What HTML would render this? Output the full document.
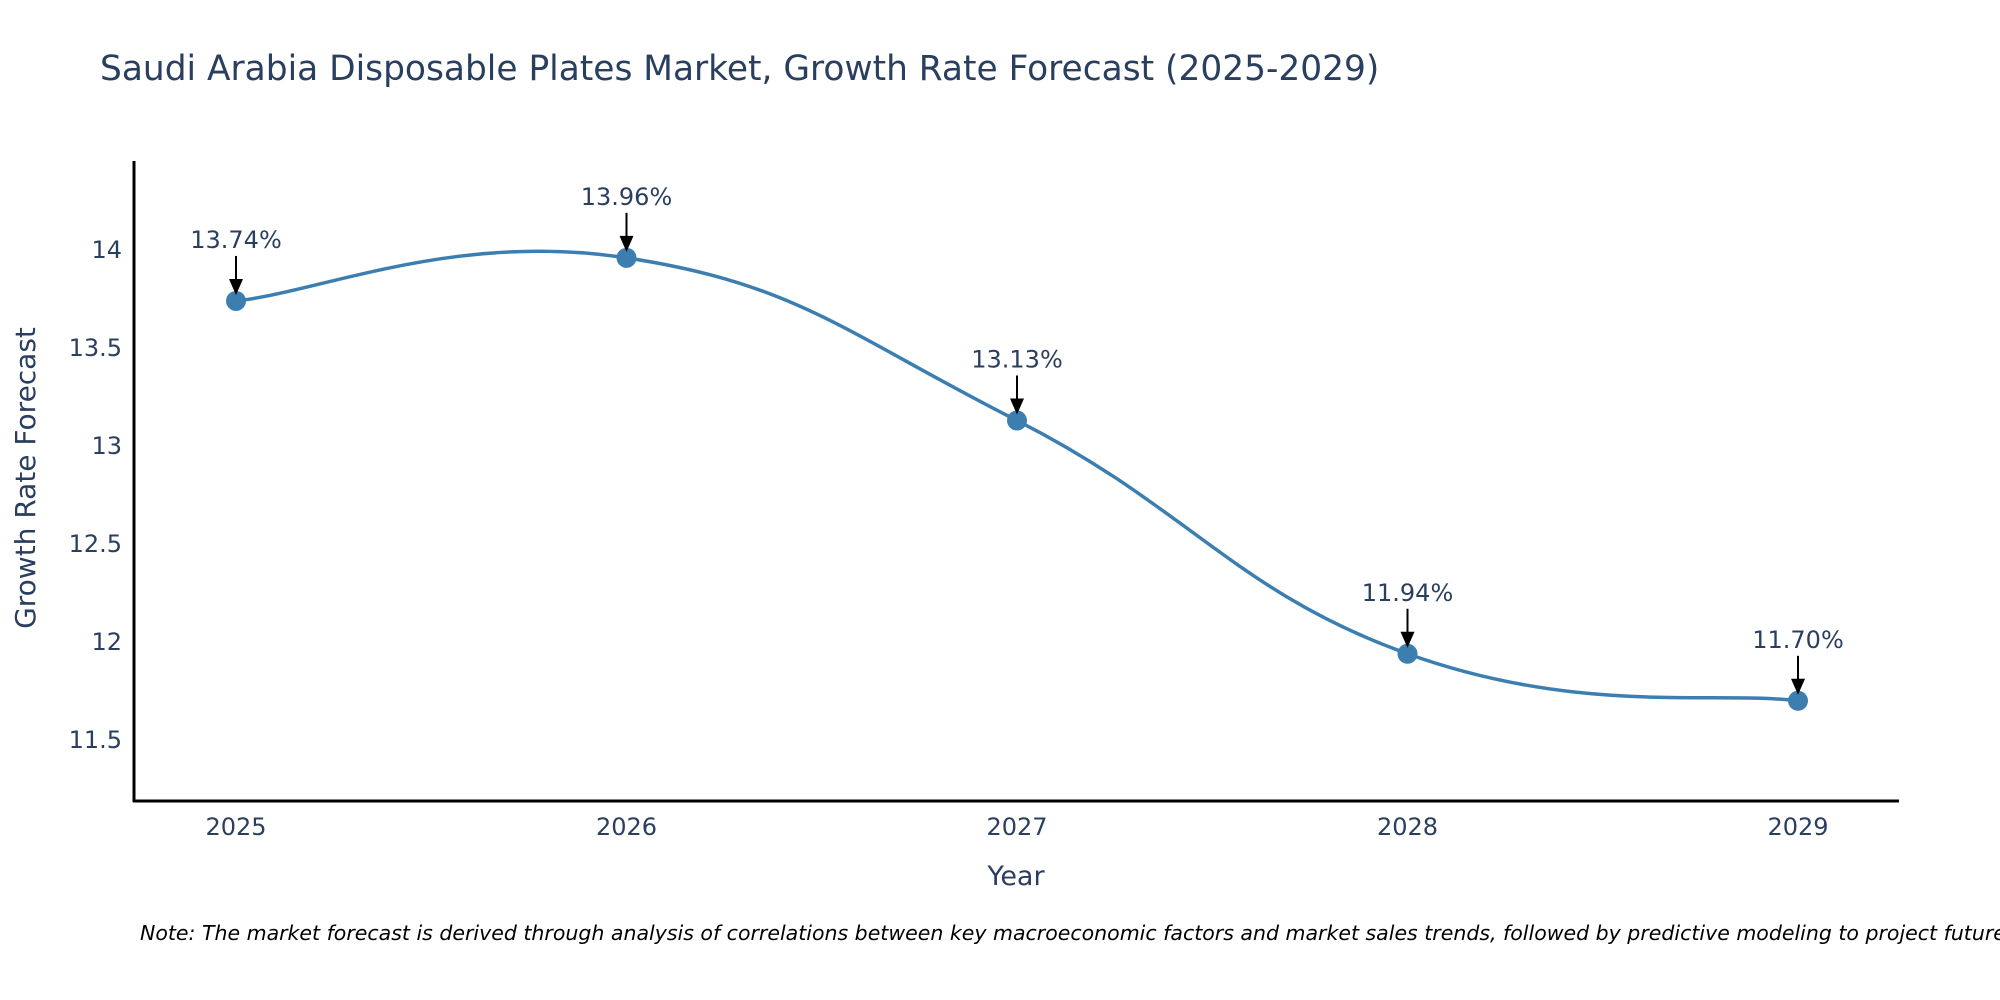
<!DOCTYPE html>
<html><head><meta charset="utf-8"><style>
body{margin:0;background:#fff}
svg{display:block;font-family:"DejaVu Sans","Liberation Sans",sans-serif}
</style></head><body>
<svg id="chart" width="2000" height="1000" viewBox="0 0 2000 1000" xmlns="http://www.w3.org/2000/svg">
<text x="100" y="80" font-size="34.4" fill="#2a3f5f">Saudi Arabia Disposable Plates Market, Growth Rate Forecast (2025-2029)</text>
<g id="yticks"></g><g id="xticks"></g>
<line x1="134" y1="161" x2="134" y2="802" stroke="#000" stroke-width="3"/>
<line x1="133" y1="801" x2="1899" y2="801" stroke="#000" stroke-width="3"/>
<path id="line" fill="none" stroke="#3d7eb0" stroke-width="3.5"/>
<g id="points"></g><g id="annots"></g>
<text transform="translate(35,478) rotate(-90)" text-anchor="middle" font-size="28" fill="#2a3f5f">Growth Rate Forecast</text>
<text x="1016" y="885" text-anchor="middle" font-size="27" fill="#2a3f5f">Year</text>
<text x="140" y="940" font-size="20.5" font-style="italic" fill="#000">Note: The market forecast is derived through analysis of correlations between key macroeconomic factors and market sales trends, followed by predictive modeling to project future sales.</text>
</svg>
<script>
const years = ['2025','2026','2027','2028','2029'];
const values = [13.74, 13.96, 13.13, 11.94, 11.70];
const labels = ['13.74%','13.96%','13.13%','11.94%','11.70%'];
const yTicks = [11.5, 12, 12.5, 13, 13.5, 14];
const NS='http://www.w3.org/2000/svg';
const x = i => 236 + i*390.5;
const y = v => 250 + (14 - v)*196;
function mk(tag, attrs, parent, txt){const e=document.createElementNS(NS,tag);for(const k in attrs)e.setAttribute(k,attrs[k]);if(txt!==undefined)e.textContent=txt;parent.appendChild(e);return e;}
const yt=document.getElementById('yticks');
yTicks.forEach(t=>{const e=mk('text',{x:122,y:y(t)+8,'text-anchor':'end','font-size':24,fill:'#2a3f5f'},yt,String(t));

});
const xt=document.getElementById('xticks');
years.forEach((t,i)=>{const e=mk('text',{x:x(i),y:835,'text-anchor':'middle','font-size':24,fill:'#2a3f5f'},xt,t);

});
const P=values.map((v,i)=>[x(i),y(v)]);
let d=`M${P[0][0]},${P[0][1]}`;const s=0.22;
for(let i=0;i<P.length-1;i++){const p0=P[Math.max(i-1,0)],p1=P[i],p2=P[i+1],p3=P[Math.min(i+2,P.length-1)];
d+=` C${p1[0]+(p2[0]-p0[0])*s},${p1[1]+(p2[1]-p0[1])*s} ${p2[0]-(p3[0]-p1[0])*s},${p2[1]-(p3[1]-p1[1])*s} ${p2[0]},${p2[1]}`;}
document.getElementById('line').setAttribute('d',d);
const pts=document.getElementById('points'),an=document.getElementById('annots');
P.forEach((p,i)=>{const c=mk('circle',{cx:p[0],cy:p[1],r:10,fill:'#3d7eb0'},pts);


const l=mk('line',{x1:p[0],y1:p[1]-45,x2:p[0],y2:p[1]-20,stroke:'#000','stroke-width':2},an);


const h=mk('polygon',{points:`${p[0]-7},${p[1]-22} ${p[0]+7},${p[1]-22} ${p[0]},${p[1]-6}`,fill:'#000'},an);


const t=mk('text',{x:p[0],y:p[1]-53,'text-anchor':'middle','font-size':24,fill:'#2a3f5f'},an,labels[i]);

});
</script>
</body></html>
